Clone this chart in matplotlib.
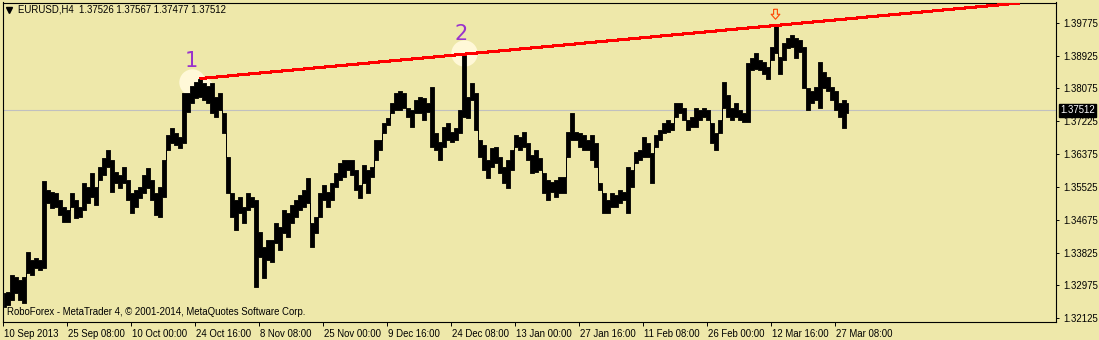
import matplotlib
matplotlib.use("Agg")
import matplotlib.pyplot as plt
from matplotlib.path import Path
import numpy as np
from matplotlib.transforms import ScaledTranslation

# ---------------- data (EURUSD H4; one entry per 4 bars) -------------
high = [1.3278, 1.3281, 1.3324, 1.3319, 1.3312, 1.3319, 1.3384, 1.3363, 1.3368, 1.3363,
        1.3567, 1.3544, 1.3539, 1.3536, 1.3518, 1.3500, 1.3492, 1.3536, 1.3518, 1.3500,
        1.3562, 1.3552, 1.3588, 1.3552, 1.3603, 1.3627, 1.3647, 1.3622, 1.3591, 1.3583,
        1.3603, 1.3570, 1.3536, 1.3544, 1.3552, 1.3583, 1.3601, 1.3570, 1.3536, 1.3552,
        1.3622, 1.3686, 1.3704, 1.3691, 1.3681, 1.3795, 1.3795, 1.3815, 1.3823, 1.3833,
        1.3821, 1.3815, 1.3821, 1.3784, 1.3795, 1.3743, 1.3629, 1.3536, 1.3518, 1.3526,
        1.3500, 1.3536, 1.3526, 1.3518, 1.3436, 1.3397, 1.3415, 1.3415, 1.3459, 1.3448,
        1.3492, 1.3485, 1.3505, 1.3518, 1.3531, 1.3544, 1.3575, 1.3459, 1.3474, 1.3536,
        1.3557, 1.3539, 1.3562, 1.3588, 1.3614, 1.3622, 1.3622, 1.3622, 1.3596, 1.3557,
        1.3609, 1.3596, 1.3603, 1.3673, 1.3673, 1.3717, 1.3730, 1.3769, 1.3795, 1.3802,
        1.3795, 1.3758, 1.3751, 1.3777, 1.3784, 1.3782, 1.3771, 1.3810, 1.3691, 1.3668,
        1.3707, 1.3717, 1.3694, 1.3704, 1.3751, 1.3896, 1.3784, 1.3821, 1.3795, 1.3673,
        1.3660, 1.3622, 1.3653, 1.3655, 1.3629, 1.3603, 1.3622, 1.3647, 1.3686, 1.3681,
        1.3694, 1.3666, 1.3634, 1.3647, 1.3627, 1.3588, 1.3570, 1.3565, 1.3570, 1.3578,
        1.3578, 1.3694, 1.3743, 1.3694, 1.3691, 1.3686, 1.3673, 1.3686, 1.3666, 1.3562,
        1.3536, 1.3518, 1.3536, 1.3531, 1.3544, 1.3539, 1.3603, 1.3596, 1.3642, 1.3647,
        1.3681, 1.3666, 1.3640, 1.3686, 1.3699, 1.3717, 1.3725, 1.3717, 1.3769, 1.3769,
        1.3758, 1.3725, 1.3733, 1.3758, 1.3751, 1.3758, 1.3751, 1.3717, 1.3691, 1.3725,
        1.3823, 1.3790, 1.3758, 1.3771, 1.3751, 1.3743, 1.3872, 1.3885, 1.3898, 1.3880,
        1.3875, 1.3862, 1.3914, 1.3970, 1.3888, 1.3924, 1.3939, 1.3945, 1.3939, 1.3932,
        1.3914, 1.3808, 1.3802, 1.3810, 1.3875, 1.3849, 1.3836, 1.3810, 1.3802, 1.3769,
        1.3777, 1.3769]
low = [1.3242, 1.3247, 1.3260, 1.3278, 1.3260, 1.3252, 1.3330, 1.3324, 1.3343, 1.3337,
       1.3343, 1.3510, 1.3498, 1.3500, 1.3479, 1.3461, 1.3461, 1.3500, 1.3472, 1.3474,
       1.3492, 1.3510, 1.3526, 1.3505, 1.3570, 1.3583, 1.3603, 1.3539, 1.3562, 1.3549,
       1.3562, 1.3518, 1.3485, 1.3500, 1.3523, 1.3536, 1.3549, 1.3518, 1.3479, 1.3474,
       1.3526, 1.3647, 1.3666, 1.3660, 1.3653, 1.3666, 1.3746, 1.3771, 1.3782, 1.3784,
       1.3777, 1.3769, 1.3743, 1.3733, 1.3751, 1.3691, 1.3536, 1.3474, 1.3441, 1.3485,
       1.3459, 1.3492, 1.3500, 1.3293, 1.3371, 1.3317, 1.3363, 1.3358, 1.3407, 1.3389,
       1.3433, 1.3423, 1.3459, 1.3474, 1.3492, 1.3500, 1.3510, 1.3397, 1.3433, 1.3474,
       1.3518, 1.3500, 1.3518, 1.3552, 1.3570, 1.3578, 1.3596, 1.3583, 1.3544, 1.3523,
       1.3562, 1.3536, 1.3578, 1.3622, 1.3647, 1.3691, 1.3712, 1.3743, 1.3751, 1.3751,
       1.3758, 1.3733, 1.3707, 1.3743, 1.3743, 1.3725, 1.3746, 1.3655, 1.3647, 1.3622,
       1.3655, 1.3673, 1.3668, 1.3673, 1.3691, 1.3733, 1.3730, 1.3777, 1.3699, 1.3629,
       1.3596, 1.3575, 1.3603, 1.3614, 1.3588, 1.3562, 1.3549, 1.3596, 1.3655, 1.3647,
       1.3655, 1.3622, 1.3588, 1.3591, 1.3596, 1.3536, 1.3518, 1.3539, 1.3526, 1.3536,
       1.3536, 1.3629, 1.3673, 1.3673, 1.3655, 1.3647, 1.3647, 1.3622, 1.3603, 1.3544,
       1.3485, 1.3485, 1.3500, 1.3500, 1.3510, 1.3518, 1.3485, 1.3552, 1.3614, 1.3622,
       1.3629, 1.3629, 1.3562, 1.3655, 1.3673, 1.3691, 1.3694, 1.3699, 1.3733, 1.3743,
       1.3725, 1.3699, 1.3707, 1.3707, 1.3725, 1.3733, 1.3725, 1.3666, 1.3647, 1.3691,
       1.3758, 1.3733, 1.3725, 1.3733, 1.3725, 1.3720, 1.3720, 1.3854, 1.3859, 1.3854,
       1.3846, 1.3833, 1.3880, 1.3898, 1.3846, 1.3880, 1.3911, 1.3914, 1.3885, 1.3901,
       1.3808, 1.3751, 1.3769, 1.3777, 1.3758, 1.3808, 1.3802, 1.3777, 1.3751, 1.3733,
       1.3704, 1.3743]

price_ticks = [1.39775, 1.38925, 1.38075, 1.37225, 1.36375, 1.35525,
               1.34675, 1.33825, 1.32975, 1.32125]
date_labels = ['10 Sep 2013', '25 Sep 08:00', '10 Oct 00:00', '24 Oct 16:00',
               '8 Nov 08:00', '25 Nov 00:00', '9 Dec 16:00', '24 Dec 08:00',
               '13 Jan 00:00', '27 Jan 16:00', '11 Feb 08:00', '26 Feb 00:00',
               '12 Mar 16:00', '27 Mar 08:00']
header = "EURUSD,H4  1.37526 1.37567 1.37477 1.37512"
last_price = 1.37512
credit = "RoboForex - MetaTrader 4, \u00a9 2001-2014, MetaQuotes Software Corp."

# ---------------- figure -------------
BG = '#EEE8AA'
W, H = 1099, 340
fig = plt.figure(figsize=(W / 100, H / 100), dpi=100, facecolor=BG)
L, R, T, B = 2.5, 1056.0, 2.5, 322.3
ax = fig.add_axes([L / W, (H - B) / H, (R - L) / W, (B - T) / H], facecolor=BG)

FONT = 'Liberation Sans'
FS = 6.9

bars_per_col = 4
n = len(high)
xc = np.arange(n) * bars_per_col + 1.0
ax.set_xlim(-0.5, R - L - 0.5)
ax.set_ylim(1.32022, 1.40298)

# current price line
ax.axhline(last_price, color='#C0C0C0', lw=0.8, zorder=0.5)

# highlight blobs behind the two anchor points
i1 = int(np.argmax(high[:60]))
i2 = 100 + int(np.argmax(high[100:130]))
i3 = 180 + int(np.argmax(high[180:]))
x1, y1 = xc[i1], high[i1]
x2, y2 = xc[i2], high[i2]

CREAM = '#FFF8D8'
ax.plot([x1 - 8], [y1 - 0.0008], marker='o', ms=19, mec='none', mfc=CREAM, zorder=1)
ax.plot([x1 + 3], [y1 - 0.0025], marker='o', ms=15, mec='none', mfc=CREAM, zorder=1)
ax.plot([x2], [y2 + 0.0002], marker='o', ms=19, mec='none', mfc=CREAM, zorder=1)

# price bars (range of each group of bars, drawn as a continuous band)
ax.fill_between(xc, low, high, step='mid', facecolor='black', edgecolor='black',
                linewidth=0.6, zorder=2)

# trend line through the two highs
slope = (y2 - y1) / (x2 - x1)
xe = 1016.0
ax.plot([x1, xe], [y1, y1 + slope * (xe - x1)], color='#FF0000', lw=1.5,
        solid_capstyle='butt', zorder=3, antialiased=False)

ax.annotate('1', (x1, y1), xytext=(-6, 5.5), textcoords='offset points',
            color='#9932CC', fontsize=15, family='DejaVu Sans', ha='center', va='bottom', zorder=4)
ax.annotate('2', (x2, y2), xytext=(-2, 7), textcoords='offset points',
            color='#9932CC', fontsize=15, family='DejaVu Sans', ha='center', va='bottom', zorder=4)

# hollow down arrow above the last touch
arrow = Path([(-0.3, 1.0), (0.3, 1.0), (0.3, 0.2), (0.7, 0.2), (0.0, -0.6),
              (-0.7, 0.2), (-0.3, 0.2), (-0.3, 1.0)])
ax.plot([xc[i3] - 1], [high[i3] + 0.0028], marker=arrow, ms=9, mfc='none',
        mec='#FF4500', mew=0.8, zorder=4, clip_on=False)

# axes styling
for s in ax.spines.values():
    s.set_color('black')
    s.set_linewidth(0.8)

ax.yaxis.tick_right()
ax.set_yticks(price_ticks)
ax.set_yticklabels([f'{v:.5f}' for v in price_ticks])
ax.tick_params(axis='y', direction='out', length=2.5, width=0.7, pad=2.5,
               labelsize=FS, colors='black')
ax.set_xticks(np.arange(len(date_labels)) * 64)
ax.set_xticklabels(date_labels)
ax.tick_params(axis='x', direction='out', length=3, width=0.7, pad=2,
               labelsize=FS, colors='black')
off = ScaledTranslation(1.5 / 100, 0, fig.dpi_scale_trans)
for lbl in ax.get_xticklabels() + ax.get_yticklabels():
    lbl.set_family(FONT)
for lbl in ax.get_xticklabels():
    lbl.set_ha('left')
    lbl.set_transform(lbl.get_transform() + off)

# current price box
ax.annotate(f'{last_price:.5f}', xy=(1.0, last_price), xycoords=('axes fraction', 'data'),
            xytext=(3.0, 0), textcoords='offset points', ha='left', va='center',
            color='white', fontsize=FS, family=FONT,
            bbox=dict(boxstyle='square,pad=0.15', fc='black', ec='black'),
            annotation_clip=False, zorder=5)

# header and credit
fig.text(18 / W, 1 - 10 / H, header, ha='left', va='center', fontsize=FS, family=FONT)
ax.plot([8.5 / W], [1 - 10 / H], marker='v', ms=5, color='black',
        transform=fig.transFigure, clip_on=False)
fig.text(7 / W, 1 - 312 / H, credit, ha='left', va='center', fontsize=FS, family=FONT)

fig.savefig('out.png', dpi=100, facecolor=BG)
